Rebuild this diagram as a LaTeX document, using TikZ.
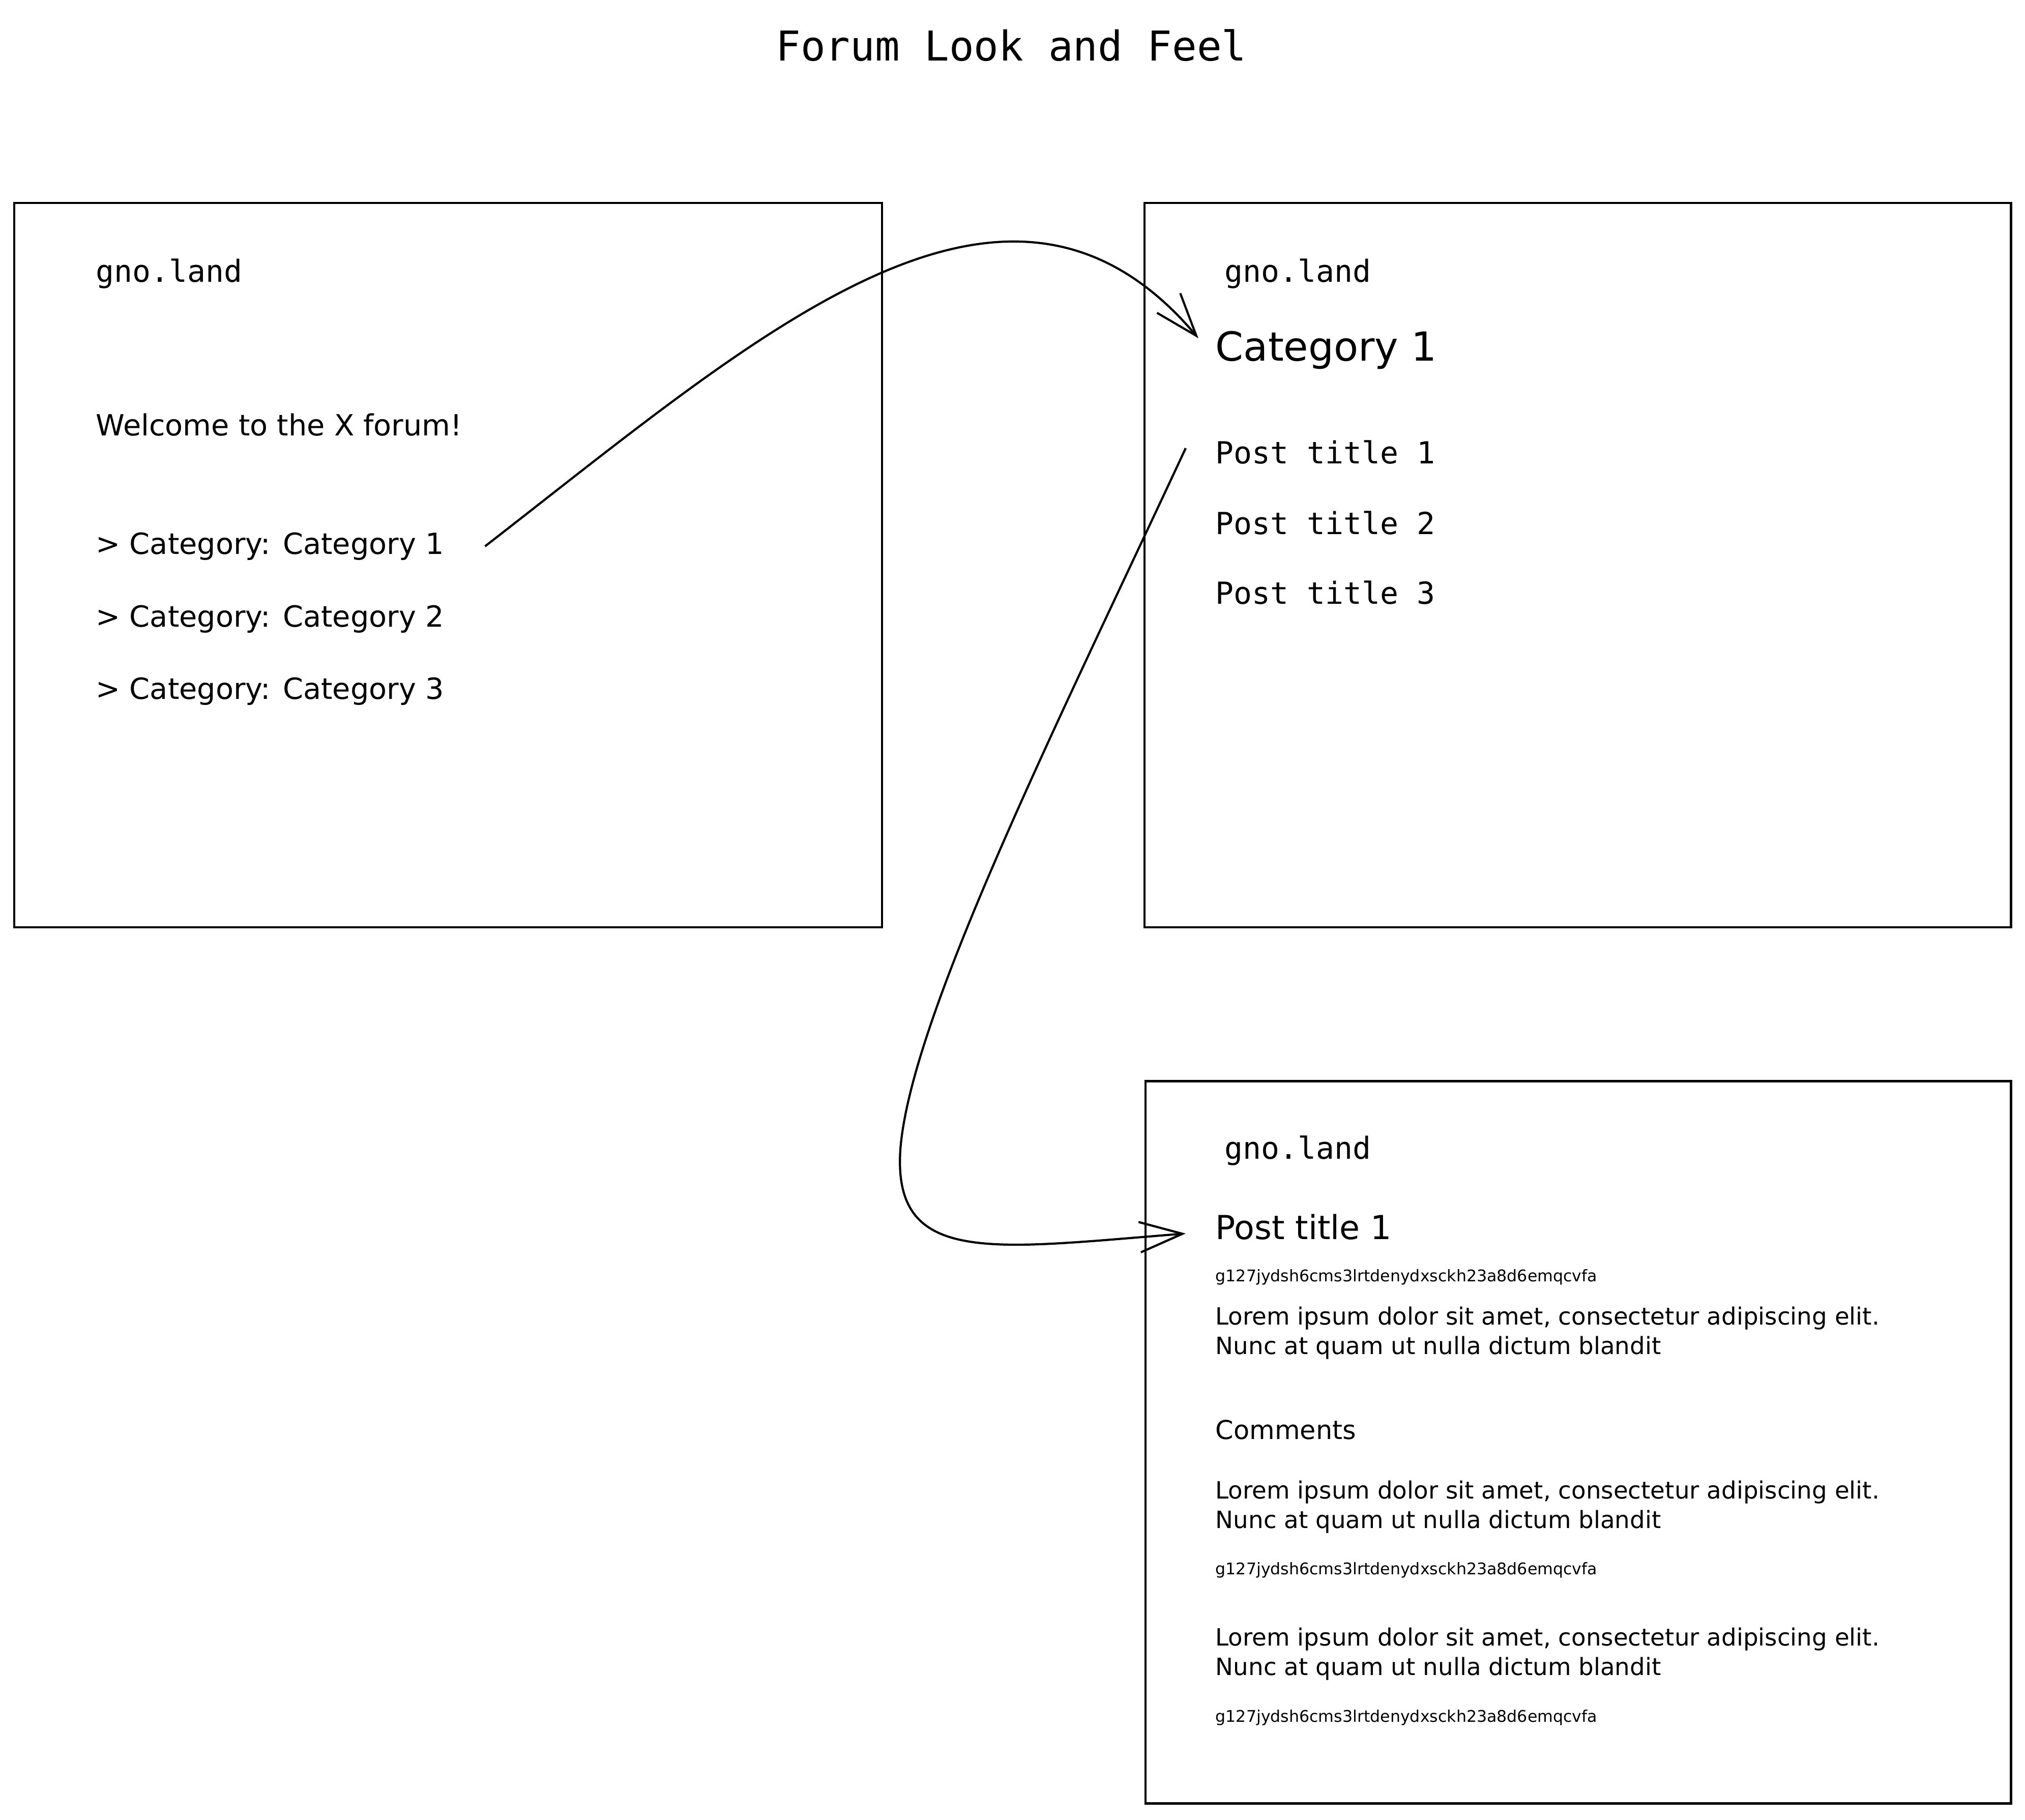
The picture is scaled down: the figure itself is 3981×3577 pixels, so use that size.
\documentclass[tikz,border=0pt]{standalone}
\usepackage{fontspec}
\setmainfont{DejaVu Sans}
\newfontfamily\handfont{DejaVu Sans}
\newfontfamily\codefont{DejaVu Sans Mono}
\usetikzlibrary{arrows.meta, positioning}

\tikzset{
  screen/.style={draw, line width=1.4pt},
  link/.style={line width=1.2pt, -{Straight Barb[length=24pt, width=17pt, line width=1.2pt]}},
  code/.style={anchor=west, inner sep=0pt, font=\codefont\fontsize{17}{20}\selectfont},
  hand/.style={anchor=west, inner sep=0pt, font=\handfont\fontsize{16.3}{20}\selectfont},
  lorem/.style={anchor=west, inner sep=0pt, align=left, font=\handfont\fontsize{13.3}{16.5}\selectfont},
  hash/.style={anchor=west, inner sep=0pt, font=\handfont\fontsize{9}{11}\selectfont},
}

\begin{document}
\begin{tikzpicture}[x=0.01cm, y=-0.01cm]

\useasboundingbox (0,0) rectangle (3981,3577);

% Title
\node[font=\codefont\fontsize{23}{28}\selectfont] (title) at (1988,89) {Forum Look and Feel};

% Screens
\draw[screen] (28,399) rectangle (1734,1823);
\draw[screen] (2250,399) rectangle (3953,1823);
\draw[screen] (2252,2125) rectangle (3953,3545);

% Home page
\node[code] (home) at (188,538) {gno.land};
\node[hand] (welcome) at (188,835) {Welcome to the X forum!};
\node[hand] (cat1) at (188,1074) {> Category: Category 1};
\node[hand] (cat2) at (188,1217) {> Category: Category 2};
\node[hand] (cat3) at (188,1359) {> Category: Category 3};

% Category page
\node[code] (home2) at (2407,538) {gno.land};
\node[hand, font=\handfont\fontsize{22.4}{26}\selectfont] (cathead) at (2389,688) {Category 1};
\node[code] (post1) at (2389,889) {Post title 1};
\node[code] (post2) at (2389,1028) {Post title 2};
\node[code] (post3) at (2389,1165) {Post title 3};

% Post page
\node[code] (home3) at (2407,2262) {gno.land};
\node[hand, font=\handfont\fontsize{18.5}{22}\selectfont] (posthead) at (2389,2412) {Post title 1};
\node[hash] (author) at (2389,2511) {g127jydsh6cms3lrtdenydxsckh23a8d6emqcvfa};
\node[lorem] (body) at (2389,2621) {Lorem ipsum dolor sit amet, consectetur adipiscing elit.\\Nunc at quam ut nulla dictum blandit};
\node[hand, font=\handfont\fontsize{14.5}{18}\selectfont] (comments) at (2389,2811) {Comments};
\node[lorem] (com1) at (2389,2963) {Lorem ipsum dolor sit amet, consectetur adipiscing elit.\\Nunc at quam ut nulla dictum blandit};
\node[hash] (author1) at (2389,3087) {g127jydsh6cms3lrtdenydxsckh23a8d6emqcvfa};
\node[lorem] (com2) at (2389,3252) {Lorem ipsum dolor sit amet, consectetur adipiscing elit.\\Nunc at quam ut nulla dictum blandit};
\node[hash] (author2) at (2389,3377) {g127jydsh6cms3lrtdenydxsckh23a8d6emqcvfa};

% Links between pages
\draw[link] ([xshift=0.8cm]cat1.east)
  .. controls (1500,650) and (1980,220) .. ([xshift=-0.33cm, yshift=0.23cm]cathead.west);
\draw[link] ([xshift=-0.58cm, yshift=0.08cm]post1.west)
  .. controls (2080,1420) and (1790,2000) .. (1770,2260)
  .. controls (1755,2490) and (1950,2455) .. ([xshift=-0.58cm, yshift=-0.13cm]posthead.west);

\end{tikzpicture}
\end{document}
